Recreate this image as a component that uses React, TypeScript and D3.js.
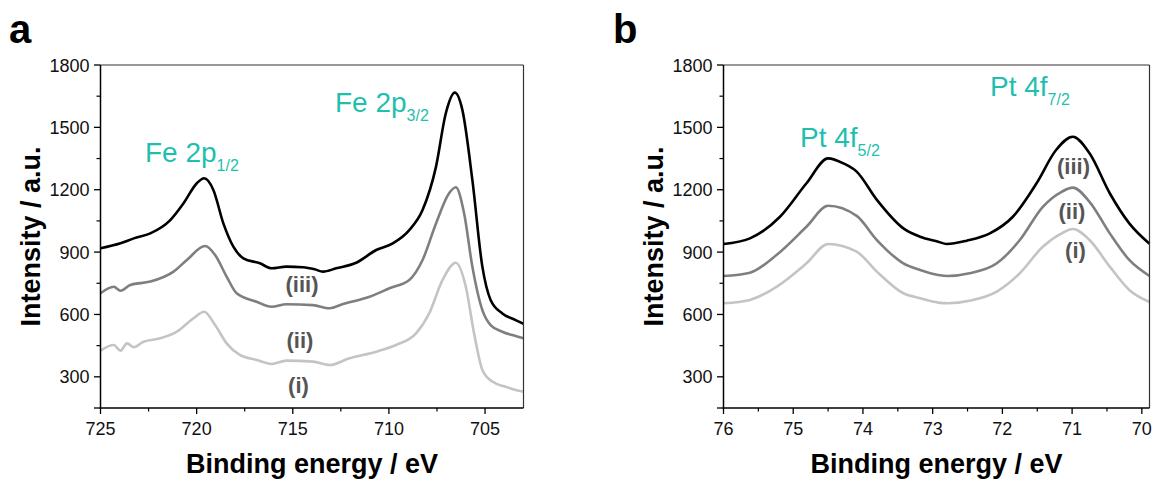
import React from "react";
import * as d3 from "d3";

// ---------- data ----------
const yMajorTicks = [300, 600, 900, 1200, 1500, 1800];
const yMinorTicks = [450, 750, 1050, 1350, 1650];
const feXMajorTicks = [725, 720, 715, 710, 705];
const feXMinorTicks = [722.5, 717.5, 712.5, 707.5];
const ptXMajorTicks = [76, 75, 74, 73, 72, 71, 70];
const ptXMinorTicks = [75.5, 74.5, 73.5, 72.5, 71.5, 70.5];

// Fe 2p spectra [binding energy, intensity]
const feIII: [number, number][] = [
  [725, 918], [723.96, 942], [723.27, 966], [722.41, 990], [721.37, 1054], [720.68, 1135],
  [719.99, 1231], [719.61, 1255], [719.13, 1199], [718.61, 1038], [718.09, 926], [717.57, 870],
  [716.71, 846], [716.1, 822], [715.33, 830], [714.47, 827], [713.86, 817], [713.43, 806],
  [712.74, 822], [711.7, 849], [710.66, 910], [709.8, 942], [708.94, 1006], [708.25, 1102],
  [707.55, 1311], [707.04, 1568], [706.57, 1667], [706.18, 1584], [705.66, 1247], [705.14, 830],
  [704.71, 670], [704.1, 605], [703.41, 573], [703.0, 555],
];
const feII: [number, number][] = [
  [725, 702], [724.31, 733], [723.96, 714], [723.45, 742], [722.41, 758], [721.2, 806],
  [720.51, 862], [719.56, 929], [719.04, 886], [718.44, 782], [717.92, 702], [716.88, 661],
  [716.1, 637], [715.33, 649], [713.95, 645], [713.08, 630], [712.39, 650], [711.01, 685],
  [709.97, 726], [708.94, 766], [708.25, 862], [707.55, 1038], [706.87, 1183], [706.52, 1212],
  [706.09, 1087], [705.66, 830], [705.14, 621], [704.71, 549], [704.1, 517], [703.41, 496],
  [703.0, 485],
];
const feI: [number, number][] = [
  [725, 426], [724.31, 453], [723.96, 426], [723.62, 461], [723.27, 442], [722.76, 469],
  [721.89, 485], [721.03, 517], [720.17, 581], [719.61, 613], [719.04, 549], [718.44, 461],
  [717.75, 405], [716.88, 381], [716.1, 362], [715.33, 378], [713.95, 373], [713.08, 357],
  [712.05, 389], [710.66, 421], [709.63, 453], [708.59, 509], [707.9, 606], [707.21, 766],
  [706.52, 849], [706.0, 733], [705.57, 509], [705.14, 333], [704.62, 277], [703.93, 252],
  [703.41, 237], [703.0, 228],
];

// Pt 4f spectra [binding energy, intensity]
const ptIII: [number, number][] = [
  [76, 939], [75.62, 966], [75.19, 1070], [74.81, 1231], [74.5, 1351], [74.28, 1327],
  [74.09, 1287], [73.8, 1151], [73.42, 1014], [73.18, 974], [72.92, 950], [72.8, 939],
  [72.51, 955], [72.18, 990], [71.85, 1070], [71.51, 1231], [71.23, 1391], [70.99, 1455],
  [70.75, 1375], [70.46, 1183], [70.18, 1038], [69.89, 940],
];
const ptII: [number, number][] = [
  [76, 785], [75.62, 801], [75.24, 886], [74.81, 1022], [74.5, 1123], [74.09, 1074],
  [73.8, 958], [73.42, 846], [73.18, 814], [72.92, 790], [72.78, 785], [72.47, 798],
  [72.08, 846], [71.75, 958], [71.42, 1118], [71.15, 1190], [70.99, 1210], [70.75, 1142],
  [70.46, 990], [70.18, 862], [69.89, 785],
];
const ptI: [number, number][] = [
  [76, 654], [75.62, 670], [75.24, 733], [74.81, 846], [74.5, 939], [74.09, 902],
  [73.8, 806], [73.42, 702], [73.18, 678], [72.92, 657], [72.78, 654], [72.47, 666],
  [72.08, 710], [71.75, 798], [71.42, 926], [71.15, 990], [70.99, 1011], [70.75, 958],
  [70.46, 830], [70.18, 718], [69.89, 660],
];

const seriesColors = ["#c4c4c4", "#7f7f7f", "#000000"];
const seriesLabels = ["(i)", "(ii)", "(iii)"];

const FONT = "Arial, 'Liberation Sans', Helvetica, sans-serif";
const TEAL = "#1fbfae";

type Panel = {
  left: number;
  right: number;
  top: number;
  bottom: number;
  xDomain: [number, number];
  xMajor: number[];
  xMinor: number[];
  series: [number, number][][];
};

function PanelView({ p, children }: { p: Panel; children?: React.ReactNode }) {
  const x = d3.scaleLinear().domain(p.xDomain).range([p.left, p.right]);
  const y = d3.scaleLinear().domain([150, 1800]).range([p.bottom, p.top]);
  const line = d3
    .line<[number, number]>()
    .x((d) => x(d[0]))
    .y((d) => y(d[1]))
    .curve(d3.curveMonotoneX);
  const cx = (p.left + p.right) / 2;
  const cy = (p.top + p.bottom) / 2;
  return (
    <g fontFamily={FONT}>
      {/* curves */}
      {p.series.map((s, i) => (
        <path
          key={i}
          d={line(s) || ""}
          fill="none"
          stroke={seriesColors[i]}
          strokeWidth={2.6}
          strokeLinejoin="round"
        />
      ))}
      {/* frame */}
      <line x1={p.left} x2={p.right} y1={p.top} y2={p.top} stroke="#333" strokeWidth={1.2} />
      <line x1={p.right} x2={p.right} y1={p.top} y2={p.bottom} stroke="#333" strokeWidth={1.2} />
      <line x1={p.left} x2={p.left} y1={p.top} y2={p.bottom + 0.7} stroke="#000" strokeWidth={1.5} />
      <line x1={p.left - 0.7} x2={p.right} y1={p.bottom} y2={p.bottom} stroke="#000" strokeWidth={1.5} />
      {/* y ticks */}
      {[...yMajorTicks, 150].map((t) => (
        <line key={"ym" + t} x1={p.left - 6.5} x2={p.left} y1={y(t)} y2={y(t)} stroke="#000" strokeWidth={1.3} />
      ))}
      {yMinorTicks.map((t) => (
        <line key={"yn" + t} x1={p.left - 4} x2={p.left} y1={y(t)} y2={y(t)} stroke="#000" strokeWidth={1.2} />
      ))}
      {yMajorTicks.map((t) => (
        <text key={"yl" + t} x={p.left - 11} y={y(t) + 6.5} textAnchor="end" fontSize={18} fill="#111">
          {t}
        </text>
      ))}
      {/* x ticks */}
      {p.xMajor.map((t) => (
        <line key={"xm" + t} x1={x(t)} x2={x(t)} y1={p.bottom} y2={p.bottom + 6} stroke="#000" strokeWidth={1.3} />
      ))}
      {p.xMinor.map((t) => (
        <line key={"xn" + t} x1={x(t)} x2={x(t)} y1={p.bottom} y2={p.bottom + 3.5} stroke="#000" strokeWidth={1.2} />
      ))}
      {p.xMajor.map((t) => (
        <text key={"xl" + t} x={x(t)} y={p.bottom + 27} textAnchor="middle" fontSize={18} fill="#111">
          {t}
        </text>
      ))}
      {/* axis titles */}
      <text x={cx} y={473} textAnchor="middle" fontSize={27} fontWeight="bold" fill="#000">
        Binding energy / eV
      </text>
      <text
        transform={`translate(${p.left - 61},${cy}) rotate(-90)`}
        textAnchor="middle"
        fontSize={27}
        fontWeight="bold"
        fill="#000"
      >
        Intensity / a.u.
      </text>
      {children}
    </g>
  );
}

function Annot({ x, y, main, sub }: { x: number; y: number; main: string; sub: string }) {
  return (
    <text x={x} y={y} fontFamily={FONT} fontSize={28} fill={TEAL}>
      {main}
      <tspan fontSize={16} dy={9}>
        {sub}
      </tspan>
    </text>
  );
}

function SeriesLabel({ x, y, t }: { x: number; y: number; t: string }) {
  return (
    <text x={x} y={y} fontFamily={FONT} fontSize={22} fontWeight="bold" fill="#555" textAnchor="middle">
      {t}
    </text>
  );
}

export default function App() {
  const panelA: Panel = {
    left: 100.5,
    right: 523.5,
    top: 65,
    bottom: 408,
    xDomain: [725, 703],
    xMajor: feXMajorTicks,
    xMinor: feXMinorTicks,
    series: [feI, feII, feIII],
  };
  const panelB: Panel = {
    left: 723.5,
    right: 1149.5,
    top: 65,
    bottom: 408,
    xDomain: [76, 69.89],
    xMajor: ptXMajorTicks,
    xMinor: ptXMinorTicks,
    series: [ptI, ptII, ptIII],
  };
  return (
    <svg
      width={1155}
      height={479}
      style={{ position: "absolute", left: 0, top: 0, background: "#fff" }}
    >
      <rect width={1155} height={479} fill="#fff" />
      <text x={9} y={43} fontFamily={FONT} fontSize={40} fontWeight="bold">a</text>
      <text x={613} y={43} fontFamily={FONT} fontSize={40} fontWeight="bold">b</text>
      <PanelView p={panelA}>
        <Annot x={145} y={162} main="Fe 2p" sub="1/2" />
        <Annot x={335} y={112} main="Fe 2p" sub="3/2" />
        <SeriesLabel x={302} y={292} t={seriesLabels[2]} />
        <SeriesLabel x={300} y={348} t={seriesLabels[1]} />
        <SeriesLabel x={298.5} y={393} t={seriesLabels[0]} />
      </PanelView>
      <PanelView p={panelB}>
        <Annot x={800} y={147} main="Pt 4f" sub="5/2" />
        <Annot x={990} y={96} main="Pt 4f" sub="7/2" />
        <SeriesLabel x={1073.5} y={174} t={seriesLabels[2]} />
        <SeriesLabel x={1072} y={219} t={seriesLabels[1]} />
        <SeriesLabel x={1075.5} y={258} t={seriesLabels[0]} />
      </PanelView>
    </svg>
  );
}
